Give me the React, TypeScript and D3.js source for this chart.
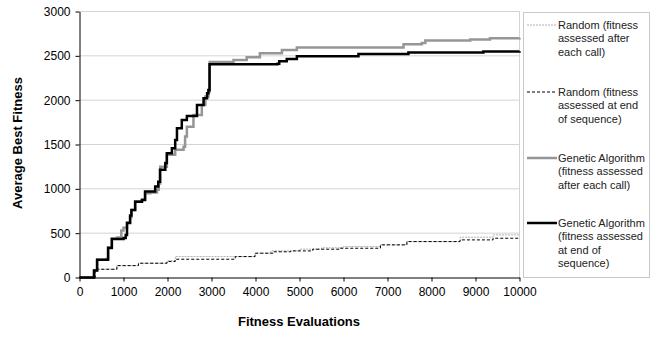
import React, { useRef, useEffect } from "react";
import * as d3 from "d3";

// [evaluations, average best fitness]
const randomAfterCall: [number, number][] = [
  [0, 0], [300, 0], [360, 93], [850, 134], [1340, 161], [1990, 190],
  [2175, 236], [3990, 274], [4350, 300], [5000, 320], [5500, 335],
  [6000, 349], [6840, 368], [7440, 405], [8650, 455], [9400, 480], [10000, 480],
];

const randomEndSeq: [number, number][] = [
  [0, 0], [300, 0], [360, 93], [850, 134], [1340, 161], [1990, 180],
  [2175, 206], [3540, 236], [3990, 274], [4400, 290], [4800, 300],
  [5300, 319], [5900, 330], [6840, 368], [7440, 405], [8650, 424],
  [9400, 443], [10000, 443],
];

const gaAfterCall: [number, number][] = [
  [0, 0], [280, 0], [330, 80], [400, 200], [620, 210], [650, 340],
  [735, 440], [850, 450], [950, 530], [1000, 560], [1080, 620],
  [1150, 680], [1180, 760], [1265, 860], [1420, 880], [1490, 950],
  [1610, 960], [1760, 990], [1800, 1060], [1835, 1250], [1985, 1383],
  [2175, 1440], [2365, 1476], [2400, 1590], [2440, 1700], [2590, 1833],
  [2780, 1946], [2860, 2040], [2930, 2097], [2960, 2430], [3500, 2454],
  [3800, 2484], [4100, 2530], [4600, 2567], [4940, 2595], [6150, 2595],
  [7365, 2631], [7780, 2645], [7860, 2672], [8880, 2685], [9330, 2698],
  [10000, 2700],
];

const gaEndSeq: [number, number][] = [
  [0, 0], [280, 0], [330, 80], [400, 200], [620, 200], [650, 333],
  [735, 435], [1000, 445], [1050, 480], [1080, 615], [1150, 700],
  [1180, 760], [1265, 855], [1420, 875], [1490, 970], [1720, 1025],
  [1790, 1080], [1830, 1215], [1950, 1290], [1985, 1400], [2100, 1458],
  [2175, 1552], [2215, 1684], [2325, 1777], [2440, 1822], [2650, 1822],
  [2670, 1946], [2780, 1946], [2820, 2022], [2900, 2078], [2930, 2115],
  [2955, 2405], [4500, 2410], [4540, 2440], [4710, 2465],
  [4940, 2495], [6340, 2520], [7475, 2537], [9180, 2550], [10000, 2553],
];

const xTicks = [0, 1000, 2000, 3000, 4000, 5000, 6000, 7000, 8000, 9000, 10000];
const yTicks = [0, 500, 1000, 1500, 2000, 2500, 3000];

const legendLabels = [
  ["Random (fitness", "assessed after", "each call)"],
  ["Random (fitness", "assessed at end", "of sequence)"],
  ["Genetic Algorithm", "(fitness assessed", "after each call)"],
  ["Genetic Algorithm", "(fitness assessed", "at end of", "sequence)"],
];

const App = () => {
  const svgRef = useRef<SVGSVGElement>(null);

  useEffect(() => {
    const svg = d3.select(svgRef.current);
    svg.selectAll("*").remove();

    const left = 79.5, right = 519.5, top = 11.5, bottom = 277.5;
    const font = "'Liberation Sans', Arial, sans-serif";

    const x = d3.scaleLinear().domain([0, 10000]).range([left, right]);
    const y = d3.scaleLinear().domain([0, 3000]).range([bottom, top]);

    // gridlines
    svg
      .append("g")
      .selectAll("line")
      .data(yTicks.filter((t) => t > 0))
      .enter()
      .append("line")
      .attr("x1", left)
      .attr("x2", right)
      .attr("y1", (d) => y(d))
      .attr("y2", (d) => y(d))
      .attr("stroke", "#d4d4d4");

    // right edge of plot area
    svg
      .append("line")
      .attr("x1", right)
      .attr("x2", right)
      .attr("y1", top)
      .attr("y2", bottom)
      .attr("stroke", "#d4d4d4");

    const line = d3
      .line<[number, number]>()
      .curve(d3.curveStepAfter)
      .x((d) => x(d[0]))
      .y((d) => y(d[1]));

    const series = [
      { data: randomAfterCall, color: "#b0b0b0", width: 1, dash: "2,1" },
      { data: randomEndSeq, color: "#000", width: 1, dash: "3,2" },
      { data: gaAfterCall, color: "#969696", width: 2.5, dash: null },
      { data: gaEndSeq, color: "#000", width: 2.5, dash: null },
    ];

    series.forEach((s) => {
      svg
        .append("path")
        .datum(s.data)
        .attr("fill", "none")
        .attr("stroke", s.color)
        .attr("stroke-width", s.width)
        .attr("stroke-dasharray", s.dash)
        .attr("d", line);
    });

    // axes
    const xAxis = svg
      .append("g")
      .attr("transform", `translate(0,${bottom})`)
      .call(
        d3.axisBottom(x).tickValues(xTicks).tickFormat(d3.format("d"))
          .tickSize(4).tickPadding(6).tickSizeOuter(0)
      );
    const yAxis = svg
      .append("g")
      .attr("transform", `translate(${left},0)`)
      .call(
        d3.axisLeft(y).tickValues(yTicks).tickFormat(d3.format("d"))
          .tickSize(4).tickPadding(5).tickSizeOuter(0)
      );
    [xAxis, yAxis].forEach((g) => {
      g.select(".domain").attr("stroke", "#000");
      g.selectAll(".tick line").attr("stroke", "#000");
      g.selectAll(".tick text")
        .attr("fill", "#000")
        .style("font-family", font)
        .style("font-size", "12px");
    });

    // axis titles
    svg
      .append("text")
      .attr("x", 299)
      .attr("y", 326)
      .attr("text-anchor", "middle")
      .style("font-family", font)
      .style("font-size", "13px")
      .style("font-weight", "bold")
      .text("Fitness Evaluations");

    svg
      .append("text")
      .attr("transform", "translate(22,143) rotate(-90)")
      .attr("text-anchor", "middle")
      .style("font-family", font)
      .style("font-size", "13px")
      .style("font-weight", "bold")
      .text("Average Best Fitness");

    // legend
    const legend = svg.append("g");
    legend
      .append("rect")
      .attr("x", 523.5)
      .attr("y", 12.5)
      .attr("width", 126)
      .attr("height", 265)
      .attr("fill", "#fff")
      .attr("stroke", "#c8c8c8");

    const rowY = [25, 92, 158, 223];
    legendLabels.forEach((lines, i) => {
      const s = series[i];
      legend
        .append("line")
        .attr("x1", 527)
        .attr("x2", 557)
        .attr("y1", rowY[i])
        .attr("y2", rowY[i])
        .attr("stroke", s.color)
        .attr("stroke-width", s.width)
        .attr("stroke-dasharray", s.dash);
      const t = legend
        .append("text")
        .attr("x", 558)
        .attr("y", rowY[i] + 4)
        .attr("fill", "#222")
        .style("font-family", font)
        .style("font-size", "11px");
      lines.forEach((l, j) => {
        t.append("tspan")
          .attr("x", 558)
          .attr("dy", j === 0 ? 0 : 13.3)
          .text(l);
      });
    });
  }, []);

  return (
    <svg
      ref={svgRef}
      width={658}
      height={337}
      style={{ position: "absolute", left: 0, top: 0, background: "#fff" }}
    />
  );
};

export default App;
